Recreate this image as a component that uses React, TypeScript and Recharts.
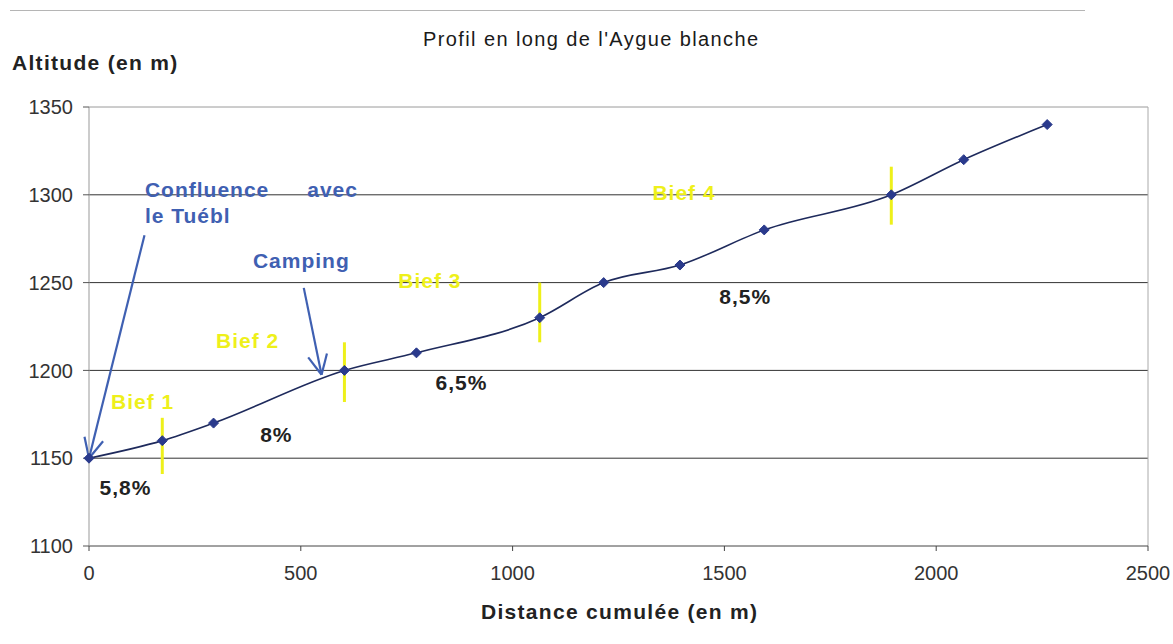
import {
  LineChart,
  Line,
  XAxis,
  YAxis,
  CartesianGrid,
  ReferenceLine,
  ReferenceDot,
} from "recharts";

// distance cumulée (m) / altitude (m)
const distances = [0, 173, 294, 603, 773, 1064, 1215, 1395, 1594, 1894, 2065, 2262];
const altitudes = [1150, 1160, 1170, 1200, 1210, 1230, 1250, 1260, 1280, 1300, 1320, 1340];

const xTicks = [0, 500, 1000, 1500, 2000, 2500];
const yTicks = [1100, 1150, 1200, 1250, 1300, 1350];

// yellow markers splitting the reaches: [distance, bottom alt, top alt]
const biefMarks = [
  [173, 1141, 1173],
  [603, 1182, 1216],
  [1064, 1216, 1250],
  [1894, 1283, 1316],
];

const biefLabels = [
  { text: "Bief 1", x: 52, y: 1178 },
  { text: "Bief 2", x: 300, y: 1213 },
  { text: "Bief 3", x: 730, y: 1247 },
  { text: "Bief 4", x: 1330, y: 1297 },
];

const slopeLabels = [
  { text: "5,8%", x: 25, y: 1129 },
  { text: "8%", x: 404, y: 1159 },
  { text: "6,5%", x: 818, y: 1189 },
  { text: "8,5%", x: 1488, y: 1238 },
];

const placeLabels = [
  { text: "Confluence", x: 132, y: 1298.5, anchor: "start" },
  { text: "avec", x: 635, y: 1298.5, anchor: "end" },
  { text: "le Tuébl", x: 132, y: 1284, anchor: "start" },
  { text: "Camping", x: 387, y: 1258.5, anchor: "start" },
];

// arrows: tail -> tip
const arrows = [
  { from: { x: 131, y: 1277 }, to: { x: 0, y: 1150 } },
  { from: { x: 507, y: 1247 }, to: { x: 549, y: 1197.5 } },
];

const data = distances.map((d, i) => ({ dist: d, alt: altitudes[i] }));

const FONT = '"Liberation Sans", Arial, sans-serif';
const BLUE = "#3f60b2";
const YELLOW = "#eef01a";

const Diamond = (p: any) => {
  const { cx, cy, index } = p;
  const s = 5;
  return (
    <path
      key={`d-${index}`}
      d={`M${cx},${cy - s}L${cx + s},${cy}L${cx},${cy + s}L${cx - s},${cy}Z`}
      fill="#2a3a8c"
      stroke="#2a3a8c"
    />
  );
};

const Arrow = (p: any) => {
  const { x1, y1, x2, y2 } = p;
  const a = Math.atan2(y2 - y1, x2 - x1);
  const len = 22;
  const spread = 0.45;
  const ax = x2 - len * Math.cos(a - spread);
  const ay = y2 - len * Math.sin(a - spread);
  const bx = x2 - len * Math.cos(a + spread);
  const by = y2 - len * Math.sin(a + spread);
  return (
    <g>
      <line x1={x1} y1={y1} x2={x2} y2={y2} stroke={BLUE} strokeWidth={2.2} />
      <line x1={x2} y1={y2} x2={ax} y2={ay} stroke={BLUE} strokeWidth={2.2} />
      <line x1={x2} y1={y2} x2={bx} y2={by} stroke={BLUE} strokeWidth={2.2} />
    </g>
  );
};

const textShape = (text: string, fill: string, anchor = "start") => (p: any) => (
  <text
    x={p.cx}
    y={p.cy}
    fill={fill}
    textAnchor={anchor}
    fontFamily={FONT}
    fontWeight="bold"
    fontSize={21}
    letterSpacing={1}
  >
    {text}
  </text>
);

export default function App() {
  return (
    <div
      style={{
        position: "absolute",
        left: 0,
        top: 0,
        width: 1173,
        height: 644,
        background: "#fff",
        fontFamily: FONT,
        overflow: "hidden",
      }}
    >
      {/* scanned page edge */}
      <div
        style={{
          position: "absolute",
          left: 10,
          top: 10,
          width: 1075,
          height: 0,
          borderTop: "1px solid #b5b5b5",
        }}
      />
      <div
        style={{
          position: "absolute",
          left: 423,
          top: 28,
          fontSize: 20,
          letterSpacing: 1.4,
          color: "#1a1a1a",
          whiteSpace: "nowrap",
        }}
      >
        Profil en long de l'Aygue blanche
      </div>
      <div
        style={{
          position: "absolute",
          left: 12,
          top: 51,
          fontSize: 21,
          letterSpacing: 1.3,
          fontWeight: "bold",
          color: "#222",
          whiteSpace: "nowrap",
        }}
      >
        Altitude (en m)
      </div>
      <div
        style={{
          position: "absolute",
          left: 481,
          top: 600,
          fontSize: 21,
          letterSpacing: 1.3,
          fontWeight: "bold",
          color: "#222",
          whiteSpace: "nowrap",
        }}
      >
        Distance cumulée (en m)
      </div>

      <LineChart
        width={1173}
        height={644}
        data={data}
        margin={{ top: 107, right: 25, bottom: 48, left: 29 }}
      >
        <CartesianGrid
          vertical={false}
          horizontalValues={[1150, 1200, 1250, 1300]}
          stroke="#333"
          strokeOpacity={1}
        />
        <ReferenceLine y={1350} stroke="#9a9a9a" />
        <ReferenceLine x={2500} stroke="#aaa" />
        <XAxis
          type="number"
          dataKey="dist"
          domain={[0, 2500]}
          ticks={xTicks}
          height={50}
          tickSize={5}
          tickMargin={15}
          axisLine={{ stroke: "#444" }}
          tickLine={{ stroke: "#444" }}
          tick={{ fontSize: 20, fill: "#333", fontFamily: FONT }}
        />
        <YAxis
          type="number"
          dataKey="alt"
          domain={[1100, 1350]}
          ticks={yTicks}
          width={60}
          tickSize={6}
          tickMargin={10}
          axisLine={{ stroke: "#999" }}
          tickLine={{ stroke: "#555" }}
          tick={{ fontSize: 20, fill: "#333", fontFamily: FONT }}
        />
        {biefMarks.map(([d, lo, hi]) => (
          <ReferenceLine
            key={`m-${d}`}
            segment={[
              { x: d, y: lo },
              { x: d, y: hi },
            ]}
            stroke={YELLOW}
            strokeWidth={3}
          />
        ))}
        <Line
          type="monotone"
          dataKey="alt"
          stroke="#1e2a5c"
          strokeWidth={1.6}
          dot={Diamond}
          activeDot={false}
          isAnimationActive={false}
        />
        {arrows.map((a, i) => (
          <ReferenceLine
            key={`a-${i}`}
            segment={[a.from, a.to]}
            shape={Arrow}
            ifOverflow="visible"
          />
        ))}
        {biefLabels.map((l) => (
          <ReferenceDot
            key={l.text}
            x={l.x}
            y={l.y}
            r={0}
            shape={textShape(l.text, YELLOW)}
          />
        ))}
        {slopeLabels.map((l) => (
          <ReferenceDot
            key={l.text}
            x={l.x}
            y={l.y}
            r={0}
            shape={textShape(l.text, "#222")}
          />
        ))}
        {placeLabels.map((l) => (
          <ReferenceDot
            key={l.text}
            x={l.x}
            y={l.y}
            r={0}
            shape={textShape(l.text, BLUE, l.anchor)}
          />
        ))}
      </LineChart>
    </div>
  );
}
